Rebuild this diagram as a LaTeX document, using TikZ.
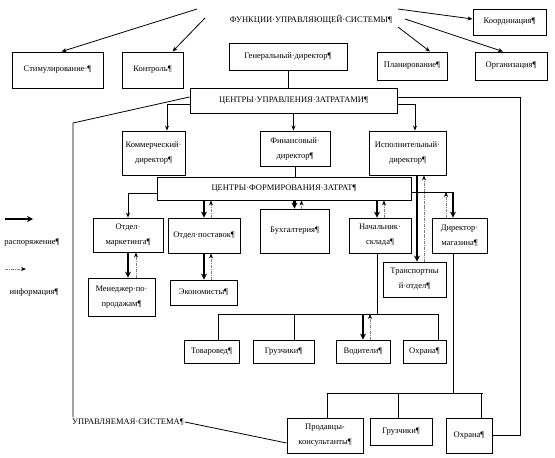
\documentclass[tikz,border=0pt]{standalone}
\usepackage{fontspec}
\setmainfont{Liberation Serif}
\usepackage{tikz}
\usetikzlibrary{arrows.meta}

\begin{document}
\begin{tikzpicture}[x=1pt, y=-1pt, font=\fontsize{8.5}{15}\selectfont]
\useasboundingbox (0,0) rectangle (555,458);
\begin{scope}[every node/.style={inner sep=1pt}]
    \node (func) at (311,20) {ФУНКЦИИ·УПРАВЛЯЮЩЕЙ·СИСТЕМЫ¶};
    \node[anchor=west] (upr) at (71,422) {УПРАВЛЯЕМАЯ·СИСТЕМА¶};
    \node (rasp) at (32,243) {распоряжение¶};
    \node (info) at (34,292) {информация¶};
\end{scope}
\begin{scope}[every node/.style={draw,line width=0.9pt,align=center,inner sep=1pt}]
    \node[minimum width=91pt, minimum height=36pt] (stim) at (57.5,70) {Стимулирование·¶};
    \node[minimum width=61pt, minimum height=36pt] (kontr) at (152.5,70) {Контроль¶};
    \node[minimum width=118pt, minimum height=27pt] (gendir) at (288,56.5) {Генеральный·директор¶};
    \node[minimum width=70pt, minimum height=28pt] (plan) at (412,66) {Планирование¶};
    \node[minimum width=72pt, minimum height=28pt] (org) at (511,66) {Организация¶};
    \node[minimum width=73pt, minimum height=26pt] (koord) at (509.5,22) {Координация¶};
    \node[minimum width=207pt, minimum height=25pt] (cuz) at (293.5,100.5) {ЦЕНТРЫ·УПРАВЛЕНИЯ·ЗАТРАТАМИ¶};
    \node[minimum width=63pt, minimum height=44pt] (kom) at (153.5,153) {Коммерческий·\\директор¶};
    \node[minimum width=70pt, minimum height=35pt] (fin) at (295,148.5) {Финансовый·\\директор¶};
    \node[minimum width=77pt, minimum height=44pt] (isp) at (407.5,153) {Исполнительный·\\директор¶};
    \node[minimum width=254pt, minimum height=23pt] (cfz) at (284,188.5) {ЦЕНТРЫ·ФОРМИРОВАНИЯ·ЗАТРАТ¶};
    \node[minimum width=70pt, minimum height=34pt] (mark) at (128,235) {Отдел·\\маркетинга¶};
    \node[minimum width=72pt, minimum height=35pt] (post) at (204,235.5) {Отдел·поставок¶};
    \node[minimum width=69pt, minimum height=44pt] (buh) at (294.5,231) {Бухгалтерия¶};
    \node[minimum width=62pt, minimum height=35pt] (nach) at (380,235.5) {Начальник·\\склада¶};
    \node[minimum width=55pt, minimum height=35pt] (dirm) at (459.5,235.5) {Директор·\\магазина¶};
    \node[minimum width=67pt, minimum height=38pt] (men) at (121.5,297) {Менеджер·по·\\продажам¶};
    \node[minimum width=67pt, minimum height=25pt] (econ) at (203.5,292.5) {Экономисты¶};
    \node[minimum width=63pt, minimum height=35pt] (trans) at (414.5,279.5) {Транспортны\\й·отдел¶};
    \node[minimum width=55pt, minimum height=23pt] (tov) at (211.5,351.5) {Товаровед¶};
    \node[minimum width=61pt, minimum height=23pt] (gruz1) at (283.5,351.5) {Грузчики¶};
    \node[minimum width=54pt, minimum height=23pt] (vod) at (363,351.5) {Водители¶};
    \node[minimum width=43pt, minimum height=23pt] (ohr1) at (424.5,351.5) {Охрана¶};
    \node[minimum width=76pt, minimum height=35pt] (prod) at (325,435.5) {Продавцы-\\консультанты¶};
    \node[minimum width=62pt, minimum height=27pt] (gruz2) at (401,431.5) {Грузчики¶};
    \node[minimum width=46pt, minimum height=35pt] (ohr2) at (469,435.5) {Охрана¶};
\end{scope}
\begin{scope}[>={Stealth[length=5pt,width=4pt]}, line width=0.8pt,
    rasp/.style={-{Stealth[length=6pt,width=6pt]}, line width=2.2pt},
    inf/.style={-{Stealth[length=5pt,width=4pt,black]}, densely dashdotted, draw=gray}]
    % functions
    \coordinate (f1) at (197,9);
    \coordinate (f2) at (205,18);
    \coordinate (f3) at (398,9);
    \coordinate (f4) at (398,27);
    \coordinate (f5) at (405,19);
    \draw[->] (f1) -- ([xshift=4pt]stim.north);
    \draw[->] (f2) -- ([xshift=20pt]kontr.north);
    \draw[->] (f3) -- ([yshift=3pt]koord.west);
    \draw[->] (f4) -- ([xshift=18pt]plan.north);
    \draw[->] (f5) -- ([xshift=-8pt]org.north);
    % cost control centres
    \draw (gendir.south) -- (gendir.south |- cuz.north);
    \draw[->] ([yshift=-3.5pt]cuz.west) -| ([xshift=13.5pt]kom.north);
    \draw[->] (cuz.south) -- (cuz.south |- fin.north);
    \draw[->] ([yshift=-3.5pt]cuz.east) -| ([xshift=7.5pt]isp.north);
    \draw (fin.south) -- (fin.south |- cfz.north);
    \draw ([yshift=3.5pt]cuz.east) -- ++(123,0) |- (ohr2.east);
    \coordinate (lbend) at (73,123);
    \draw ([yshift=3.5pt]cuz.west) -- (lbend) -- (lbend |- upr.north);
    \draw (upr.east) -- ([yshift=-7.5pt]prod.west);
    % cost formation centres
    \draw[->] ([yshift=-4.5pt]cfz.west) -| (mark.north);
    \draw[rasp] (post.north |- cfz.south) -- (post.north);
    \draw[inf] ([xshift=7pt]post.north) -- ([xshift=7pt]post.north |- cfz.south);
    \draw[rasp] (buh.north |- cfz.south) -- (buh.north);
    \draw[inf] ([xshift=7pt]buh.north) -- ([xshift=7pt]buh.north |- cfz.south);
    \draw[rasp] ([xshift=-3pt]nach.north |- cfz.south) -- ([xshift=-3pt]nach.north);
    \draw[inf] ([xshift=4pt]nach.north) -- ([xshift=4pt]nach.north |- cfz.south);
    \coordinate (cfzr) at ([yshift=-3.5pt]cfz.east);
    \draw (cfzr) -- ([xshift=-6.5pt]dirm.north |- cfzr);
    \draw[rasp] ([xshift=-6.5pt]dirm.north |- cfzr) -- ([xshift=-6.5pt]dirm.north);
    \draw[inf] ([xshift=-13.5pt]dirm.north) -- ([xshift=-13.5pt]dirm.north |- cfzr);
    \draw[rasp] ([xshift=9.5pt]isp.south) -- ([xshift=9.5pt]isp.south |- trans.north);
    \draw[inf] ([xshift=16.5pt]isp.south |- trans.north) -- ([xshift=16.5pt]isp.south);
    \draw[rasp] (mark.south) -- (mark.south |- men.north);
    \draw[inf] ([xshift=8pt]mark.south |- men.north) -- ([xshift=8pt]mark.south);
    \draw[rasp] (post.south) -- (post.south |- econ.north);
    \draw[inf] ([xshift=7pt]post.south |- econ.north) -- ([xshift=7pt]post.south);
    % warehouse
    \coordinate (bus1) at (377,314);
    \draw ([xshift=-3pt]nach.south) -- (bus1);
    \draw ([xshift=6.5pt]tov.north) |- ([xshift=13.5pt]ohr1.north |- bus1) -- ([xshift=13.5pt]ohr1.north);
    \draw ([xshift=10.5pt]gruz1.north) -- ([xshift=10.5pt]gruz1.north |- bus1);
    \draw[rasp] (vod.north |- bus1) -- (vod.north);
    \draw[inf] ([xshift=7pt]vod.north) -- ([xshift=7pt]vod.north |- bus1);
    % shop
    \coordinate (bus2) at (453,393);
    \draw ([xshift=-6.5pt]dirm.south) -- (bus2);
    \draw ([xshift=2pt]prod.north) |- ([xshift=14pt]ohr2.north |- bus2);
    \draw ([xshift=12pt]ohr2.north) -- ([xshift=12pt]ohr2.north |- bus2);
    \draw ([xshift=-3pt]gruz2.north) -- ([xshift=-3pt]gruz2.north |- bus2);
    % legend
    \coordinate (la) at (5,219);
    \coordinate (lb) at (33,219);
    \draw[rasp] (la) -- (lb);
    \coordinate (lc) at (5,269);
    \coordinate (ld) at (26,269);
    \draw[inf] (lc) -- (ld);
\end{scope}
\end{tikzpicture}
\end{document}
